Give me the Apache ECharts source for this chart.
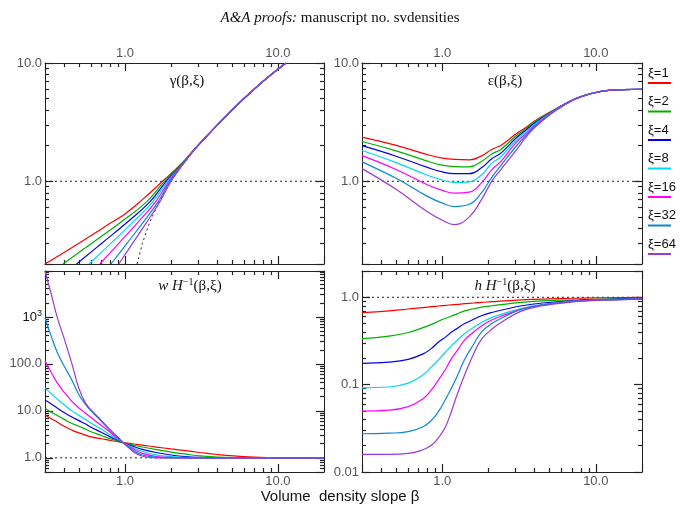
<!DOCTYPE html>
<html>
<head>
<meta charset="utf-8">
<title>svdensities</title>
<script src="https://cdn.jsdelivr.net/npm/echarts@6/dist/echarts.min.js"></script>
<style>
  html, body { margin: 0; padding: 0; background: #fff; }
  #chart { width: 680px; height: 515px; }
</style>
</head>
<body>
<div id="chart"></div>
<script>
  // one curve per xi
  const xiNames = ['ξ=1', 'ξ=2', 'ξ=4', 'ξ=8', 'ξ=16', 'ξ=32', 'ξ=64'];
  const lineColors = ['#ff0000', '#00b000', '#0000f0', '#00d8f0', '#ff00ff', '#0a88d0', '#9b3bd0'];

  // gamma(beta, xi): [beta, gamma] points
  const gammaXi1 = [[0.3, 0.2], [0.5, 0.30], [0.82, 0.45], [1.0, 0.53], [1.3, 0.70], [1.76, 1.0], [2.3, 1.38], [3, 2.02], [5, 4.0], [8, 7.0], [11.3, 10]];
  const gammaXi2 = [[0.393, 0.2], [0.608, 0.3], [0.929, 0.447], [1.383, 0.67], [1.81, 1.0], [2.3, 1.36], [3, 2.01], [5, 4.0], [8, 7.0], [11.3, 10]];
  const gammaXi4 = [[0.482, 0.2], [0.706, 0.3], [1.025, 0.447], [1.454, 0.67], [1.86, 1.0], [2.3, 1.34], [3, 2.0], [5, 4.0], [8, 7.0], [11.3, 10]];
  const gammaXi8 = [[0.582, 0.2], [0.81, 0.3], [1.118, 0.447], [1.516, 0.67], [1.90, 1.0], [2.3, 1.33], [3, 2.0], [5, 4.0], [8, 7.0], [11.3, 10]];
  const gammaXi16 = [[0.685, 0.2], [0.913, 0.3], [1.21, 0.447], [1.582, 0.67], [1.94, 1.0], [2.3, 1.32], [3, 2.0], [5, 4.0], [8, 7.0], [11.3, 10]];
  const gammaXi32 = [[0.81, 0.2], [1.033, 0.3], [1.31, 0.447], [1.644, 0.67], [1.97, 1.0], [2.3, 1.31], [3, 2.0], [5, 4.0], [8, 7.0], [11.3, 10]];
  const gammaXi64 = [[0.91, 0.2], [1.123, 0.3], [1.382, 0.447], [1.689, 0.67], [2.0, 1.0], [2.3, 1.30], [3, 2.0], [5, 4.0], [8, 7.0], [11.3, 10]];
  const gammaLimit = [[1.2, 0.2], [1.3, 0.3], [1.45, 0.45], [1.67, 0.67], [2.0, 1.0], [2.3, 1.3], [3, 2.0], [5, 4.0], [8, 7.0], [11, 10]];

  // epsilon(beta, xi)
  const betaEps = [0.3, 0.5, 0.8, 1.0, 1.2, 1.5, 1.8, 2.1, 2.42, 3.0, 3.5, 4.0, 5.1, 6.5, 8, 10.8, 15, 20];
  const epsXi1 = [2.36, 2.01, 1.68, 1.57, 1.53, 1.52, 1.64, 1.86, 2.02, 2.5, 2.85, 3.24, 3.88, 4.62, 5.2, 5.75, 5.95, 6.0];
  const epsXi2 = [2.17, 1.81, 1.48, 1.37, 1.33, 1.325, 1.47, 1.70, 1.87, 2.4, 2.78, 3.18, 3.86, 4.61, 5.2, 5.75, 5.95, 6.0];
  const epsXi4 = [2.0, 1.63, 1.31, 1.20, 1.16, 1.16, 1.30, 1.55, 1.74, 2.3, 2.70, 3.11, 3.83, 4.6, 5.2, 5.75, 5.95, 6.0];
  const epsXi8 = [1.82, 1.44, 1.125, 1.025, 0.98, 0.99, 1.13, 1.42, 1.62, 2.2, 2.62, 3.04, 3.80, 4.59, 5.19, 5.75, 5.95, 6.0];
  const epsXi16 = [1.65, 1.26, 0.936, 0.838, 0.795, 0.81, 0.97, 1.25, 1.48, 2.1, 2.53, 2.97, 3.77, 4.58, 5.19, 5.74, 5.95, 6.0];
  const epsXi32 = [1.46, 1.06, 0.746, 0.654, 0.612, 0.64, 0.80, 1.08, 1.37, 1.95, 2.44, 2.91, 3.74, 4.57, 5.18, 5.74, 5.95, 6.0];
  const epsXi64 = [1.28, 0.855, 0.552, 0.469, 0.43, 0.5, 0.70, 1.0, 1.27, 1.8, 2.35, 2.85, 3.70, 4.55, 5.18, 5.74, 5.95, 6.0];

  // w H^-1(beta, xi)
  const betaW = [0.3, 0.33, 0.36, 0.4, 0.45, 0.5, 0.55, 0.6, 0.7, 0.8, 0.9, 1.0, 1.15, 1.3, 1.6, 2.0, 2.5, 3.1, 4, 5.1, 7, 10, 20];
  const wXi1 = [8.2, 6.8, 5.8, 4.7, 3.9, 3.4, 3.05, 2.8, 2.55, 2.35, 2.2, 2.1, 1.97, 1.87, 1.7, 1.55, 1.42, 1.3, 1.18, 1.1, 1.04, 1.01, 1.0];
  const wXi2 = [11.4, 9.4, 8.0, 6.6, 5.4, 4.7, 4.1, 3.6, 3.0, 2.55, 2.25, 2.05, 1.85, 1.7, 1.5, 1.33, 1.2, 1.1, 1.04, 1.01, 1.0, 1.0, 1.0];
  const wXi4 = [17, 14, 11.5, 9.2, 7.4, 6.2, 5.3, 4.5, 3.5, 2.8, 2.35, 2.02, 1.72, 1.52, 1.3, 1.15, 1.06, 1.02, 1.0, 1.0, 1.0, 1.0, 1.0];
  const wXi8 = [31, 23, 18, 13.5, 10, 8.0, 6.6, 5.5, 4.1, 3.1, 2.45, 2.0, 1.6, 1.38, 1.16, 1.06, 1.02, 1.0, 1.0, 1.0, 1.0, 1.0, 1.0];
  const wXi16 = [116, 65, 40, 25, 16, 11.5, 9.0, 7.2, 4.9, 3.5, 2.55, 1.97, 1.5, 1.25, 1.07, 1.02, 1.0, 1.0, 1.0, 1.0, 1.0, 1.0, 1.0];
  const wXi32 = [950, 380, 180, 90, 45, 22, 14, 10, 6.0, 3.8, 2.65, 1.95, 1.4, 1.15, 1.03, 1.0, 1.0, 1.0, 1.0, 1.0, 1.0, 1.0, 1.0];
  const wXi64 = [9500, 3000, 1000, 350, 100, 30, 15, 10.5, 6.3, 4.0, 2.75, 1.95, 1.3, 1.08, 1.0, 1.0, 1.0, 1.0, 1.0, 1.0, 1.0, 1.0, 1.0];

  // h H^-1(beta, xi)
  const betaH = [0.3, 0.45, 0.6, 0.75, 0.85, 0.95, 1.05, 1.15, 1.25, 1.4, 1.6, 1.8, 2.1, 2.5, 3.3, 4.5, 7, 10, 20];
  const hXi1 = [0.668, 0.70, 0.735, 0.76, 0.78, 0.795, 0.81, 0.82, 0.83, 0.845, 0.86, 0.875, 0.89, 0.91, 0.935, 0.955, 0.975, 0.985, 1.0];
  const hXi2 = [0.337, 0.36, 0.395, 0.45, 0.49, 0.535, 0.575, 0.61, 0.645, 0.70, 0.74, 0.77, 0.80, 0.83, 0.875, 0.91, 0.935, 0.95, 0.965];
  const hXi4 = [0.175, 0.181, 0.195, 0.225, 0.26, 0.31, 0.35, 0.40, 0.44, 0.50, 0.56, 0.615, 0.67, 0.72, 0.80, 0.86, 0.91, 0.94, 0.96];
  const hXi8 = [0.092, 0.094, 0.104, 0.13, 0.16, 0.195, 0.235, 0.28, 0.32, 0.385, 0.45, 0.515, 0.585, 0.65, 0.75, 0.83, 0.90, 0.93, 0.955];
  const hXi16 = [0.0498, 0.051, 0.056, 0.069, 0.087, 0.115, 0.15, 0.20, 0.245, 0.325, 0.40, 0.47, 0.55, 0.62, 0.735, 0.82, 0.895, 0.93, 0.955];
  const hXi32 = [0.0274, 0.0278, 0.029, 0.033, 0.039, 0.05, 0.068, 0.092, 0.125, 0.195, 0.29, 0.40, 0.50, 0.59, 0.73, 0.815, 0.89, 0.925, 0.95];
  const hXi64 = [0.0159, 0.0159, 0.0163, 0.018, 0.0202, 0.025, 0.033, 0.05, 0.077, 0.13, 0.225, 0.33, 0.43, 0.535, 0.70, 0.80, 0.885, 0.92, 0.95];

  // dotted reference level
  const unityLine = [[0.3, 1], [20, 1]];

  const gammaCurves = [gammaXi1, gammaXi2, gammaXi4, gammaXi8, gammaXi16, gammaXi32, gammaXi64];
  const epsCurves = [epsXi1, epsXi2, epsXi4, epsXi8, epsXi16, epsXi32, epsXi64];
  const wCurves = [wXi1, wXi2, wXi4, wXi8, wXi16, wXi32, wXi64];
  const hCurves = [hXi1, hXi2, hXi4, hXi8, hXi16, hXi32, hXi64];

  const zip = (xs, ys) => xs.map((x, i) => [x, ys[i]]);

  const panels = [
    { left: 45, top: 63, width: 279, height: 201, yMin: 0.2, yMax: 10, xLabels: 'top' },
    { left: 362, top: 63, width: 280, height: 201, yMin: 0.2, yMax: 10, xLabels: 'top' },
    { left: 45, top: 271, width: 279, height: 201, yMin: 0.5, yMax: 9500, xLabels: 'bottom' },
    { left: 362, top: 271, width: 280, height: 201, yMin: 0.01, yMax: 2, xLabels: 'bottom' }
  ];

  function tickLabel(v) {
    const e = Math.log10(v);
    const n = Math.round(e);
    if (Math.abs(e - n) > 1e-6) return '';
    if (n >= 3) return '{b|10}{s|' + n + '}';
    if (n >= 0) return v.toFixed(1);
    return v.toFixed(-n);
  }

  function logAxis(gridIndex, position, showLabels, min, max) {
    return {
      type: 'log',
      logBase: 10,
      gridIndex,
      position,
      min,
      max,
      axisLine: { show: true, onZero: false, lineStyle: { color: '#222', width: 1 } },
      axisTick: { show: true, inside: true, length: 8, lineStyle: { color: '#222', width: 1.2 } },
      minorTick: { show: true, splitNumber: 9, length: 4, lineStyle: { color: '#222', width: 1.2 } },
      axisLabel: {
        show: showLabels,
        margin: 3,
        fontSize: 13,
        formatter: tickLabel,
        rich: {
          b: { fontSize: 13 },
          s: { fontSize: 9, padding: [0, 0, 7, 0] }
        }
      },
      splitLine: { show: false },
      minorSplitLine: { show: false }
    };
  }

  const grids = [];
  const xAxes = [];
  const yAxes = [];
  panels.forEach((p, g) => {
    grids.push({ left: p.left, top: p.top, width: p.width, height: p.height });
    xAxes.push(logAxis(g, 'bottom', p.xLabels === 'bottom', 0.3, 20));
    xAxes.push(logAxis(g, 'top', p.xLabels === 'top', 0.3, 20));
    yAxes.push(logAxis(g, 'left', true, p.yMin, p.yMax));
    yAxes.push(logAxis(g, 'right', false, p.yMin, p.yMax));
  });

  const series = [];
  function addLine(g, data, color, dotted) {
    series.push({
      type: 'line',
      xAxisIndex: 2 * g,
      yAxisIndex: 2 * g,
      data,
      symbol: 'none',
      smooth: dotted ? false : 0.45,
      lineStyle: dotted
        ? { color: '#222', width: 1, type: [2, 3] }
        : { color, width: 1.2 }
    });
  }

  addLine(0, unityLine, null, true);
  addLine(0, gammaLimit, null, true);
  gammaCurves.forEach((c, i) => addLine(0, c, lineColors[i], false));
  addLine(1, unityLine, null, true);
  epsCurves.forEach((c, i) => addLine(1, zip(betaEps, c), lineColors[i], false));
  addLine(2, unityLine, null, true);
  wCurves.forEach((c, i) => addLine(2, zip(betaW, c), lineColors[i], false));
  addLine(3, unityLine, null, true);
  hCurves.forEach((c, i) => addLine(3, zip(betaH, c), lineColors[i], false));

  // panel labels, axis name and the xi key on the right
  const serif = 'Liberation Serif';
  const supRich = {
    i: { fontFamily: serif, fontStyle: 'italic', fontSize: 15, fill: '#111' },
    s: { fontFamily: serif, fontSize: 10, fill: '#111', padding: [0, 0, 7, 0] },
    n: { fontFamily: serif, fontSize: 15, fill: '#111' }
  };
  const graphics = [
    { type: 'text', x: 187, y: 81, style: { text: 'γ(β,ξ)', font: '15px ' + serif, fill: '#111', textAlign: 'center', textVerticalAlign: 'middle' } },
    { type: 'text', x: 505, y: 81, style: { text: 'ε(β,ξ)', font: '15px ' + serif, fill: '#111', textAlign: 'center', textVerticalAlign: 'middle' } },
    { type: 'text', x: 190, y: 286, style: { text: '{i|w H}{s|−1}{n|(β,ξ)}', textAlign: 'center', textVerticalAlign: 'middle', fill: '#111', rich: supRich } },
    { type: 'text', x: 505, y: 286, style: { text: '{i|h H}{s|−1}{n|(β,ξ)}', textAlign: 'center', textVerticalAlign: 'middle', fill: '#111', rich: supRich } },
    { type: 'text', x: 340, y: 497, style: { text: 'Volume  density slope β', font: '15px Liberation Sans', fill: '#111', textAlign: 'center', textVerticalAlign: 'middle' } }
  ];
  xiNames.forEach((name, i) => {
    const y0 = 73 + i * 28.5;
    graphics.push({ type: 'text', x: 648, y: y0, style: { text: name, font: '13px Liberation Sans', fill: '#111', textAlign: 'left', textVerticalAlign: 'middle' } });
    graphics.push({ type: 'line', shape: { x1: 648, y1: y0 + 10, x2: 671, y2: y0 + 10 }, style: { stroke: lineColors[i], lineWidth: 2 } });
  });

  const chart = echarts.init(document.getElementById('chart'));
  chart.setOption({
    animation: false,
    textStyle: { fontFamily: 'Liberation Sans', color: '#111' },
    title: {
      text: '{i|A&A proofs:} manuscript no. svdensities',
      left: 'center',
      top: 6,
      textStyle: {
        fontFamily: serif, fontSize: 15, fontWeight: 'normal', color: '#111',
        rich: { i: { fontFamily: serif, fontSize: 15, fontStyle: 'italic', color: '#111' } }
      }
    },
    grid: grids,
    xAxis: xAxes,
    yAxis: yAxes,
    series,
    graphic: graphics
  });
</script>
</body>
</html>
